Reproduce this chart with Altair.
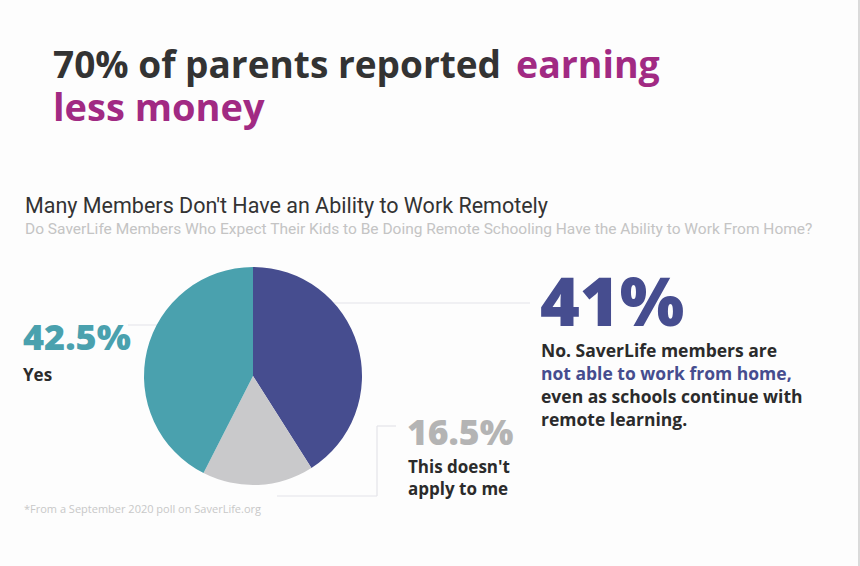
import altair as alt
import pandas as pd

# ---- data ----
answers = ["No", "This doesn't apply to me", "Yes"]
shares = [41.0, 16.5, 42.5]
slice_order = [0, 1, 2]
slice_colors = ["#464d8f", "#c9c9cb", "#4aa1ae"]

title_dark = "70% of parents reported"
title_accent_1 = "earning"
title_accent_2 = "less money"
subtitle = "Many Members Don't Have an Ability to Work Remotely"
question = "Do SaverLife Members Who Expect Their Kids to Be Doing Remote Schooling Have the Ability to Work From Home?"
yes_pct = "42.5%"
yes_label = "Yes"
no_pct = "41%"
no_lines = ["No. SaverLife members are", "not able to work from home,",
            "even as schools continue with", "remote learning."]
na_pct = "16.5%"
na_lines = ["This doesn't", "apply to me"]
footnote = "*From a September 2020 poll on SaverLife.org"

W, H = 860, 566
FONT = "Open Sans"

pie_df = pd.DataFrame({"answer": answers, "share": shares, "ord": slice_order})


def txt(s, x, y, size, color, weight="bold", font=FONT, align="left"):
    return alt.Chart(pd.DataFrame({"t": [s]})).mark_text(
        align=align, baseline="alphabetic", font=font, fontSize=size,
        fontWeight=weight, color=color
    ).encode(text="t:N", x=alt.value(x), y=alt.value(y))


def rule(x1, x2, y1, y2, color="#e4e4ea"):
    return alt.Chart(pd.DataFrame({"a": [0]})).mark_rule(
        color=color, strokeWidth=1.2
    ).encode(x=alt.value(x1), x2=alt.value(x2), y=alt.value(y1), y2=alt.value(y2))


lines = [
    rule(300, 530, 303, 303),
    rule(128, 200, 325, 325),
    rule(277, 377, 496, 496),
    rule(377, 377, 426, 496),
    rule(377, 396, 426, 426),
    rule(859, 859, 0, H, color="#c4c4c4"),
]

pie = alt.Chart(pie_df).mark_arc(outerRadius=109).encode(
    theta=alt.Theta("share:Q", stack=True),
    color=alt.Color("answer:N", scale=alt.Scale(domain=answers, range=slice_colors), legend=None),
    order=alt.Order("ord:Q"),
    x=alt.value(253), y=alt.value(376),
)

texts = [
    txt(title_dark, 53, 78, 37, "#333333"),
    txt(title_accent_1, 516, 78, 37.5, "#a12a83"),
    txt(title_accent_2, 53, 121, 38, "#a12a83"),
    txt(subtitle, 25, 213, 21.5, "#333333", weight="normal", font="Roboto"),
    txt(question, 25, 234, 15.5, "#c4c4c4", weight="normal", font="Roboto"),
    txt(yes_pct, 23, 350, 36, "#4aa1ae", weight=800),
    txt(yes_label, 23, 381, 17, "#2b2b2b"),
    txt(no_pct, 540, 326, 68, "#464d8f", weight=800),
    txt(no_lines[0], 541, 357, 17.5, "#2b2b2b"),
    txt(no_lines[1], 541, 380, 17.5, "#464d8f"),
    txt(no_lines[2], 541, 403, 17.5, "#2b2b2b"),
    txt(no_lines[3], 541, 426, 17.5, "#2b2b2b"),
    txt(na_pct, 407, 445, 35.5, "#b4b4b4", weight=800),
    txt(na_lines[0], 408, 473, 17, "#2b2b2b"),
    txt(na_lines[1], 408, 495, 17, "#2b2b2b"),
    txt(footnote, 24, 513, 11, "#c8c8c8", weight="normal"),
]

chart = alt.layer(*lines, pie, *texts).properties(
    width=W, height=H, background="#fdfdfd", padding=0,
    autosize=alt.AutoSizeParams(type="none"),
).configure_view(stroke=None)

chart.save("out.html", embed_options={"renderer": "svg", "actions": False})
